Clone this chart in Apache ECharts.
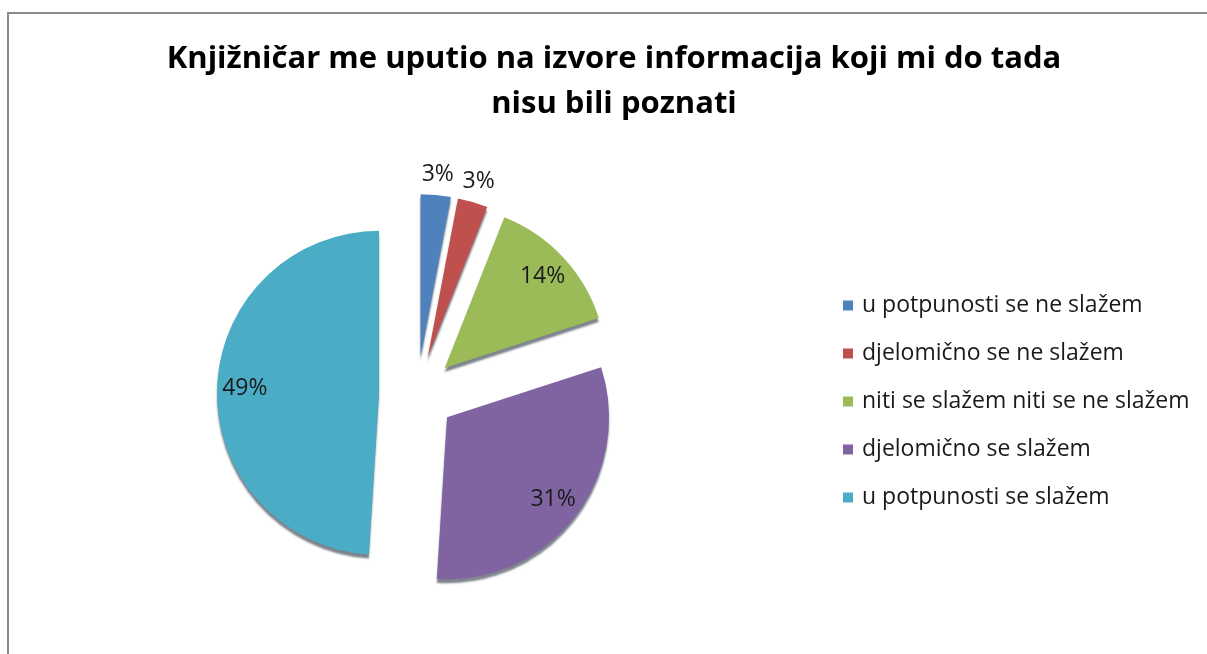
<!DOCTYPE html>
<html>
<head>
<meta charset="utf-8">
<script src="https://cdn.jsdelivr.net/npm/echarts@6/dist/echarts.min.js"></script>
<style>
    html, body { margin: 0; padding: 0; background: #fff; overflow: hidden; }
    #frame { position: absolute; left: 7px; top: 12px; width: 1400px; height: 900px; border: 2px solid #8a8a8a; }
    #chart { position: absolute; left: 0; top: 0; width: 1207px; height: 654px; }
</style>
</head>
<body>
<div id="frame"></div>
<div id="chart"></div>
<script>
// podaci
var categories = ['u potpunosti se ne slažem', 'djelomično se ne slažem', 'niti se slažem niti se ne slažem', 'djelomično se slažem', 'u potpunosti se slažem'];
var percents = [3, 3, 14, 31, 49];
var colors = ['#4F81BD', '#C0504D', '#9BBB59', '#8064A2', '#4BACC6'];
// mali udjeli imaju oznaku izvan isječka
var labelOutside = [true, true, false, false, false];

var FONT = '"Open Sans", sans-serif';
var R = 162;
var CENTER = [417, 394];

var Chart = {
    init: function () {
        var pieData = [], innerLabels = [], outerLabels = [];
        for (var i = 0; i < categories.length; i++) {
            pieData.push({ name: categories[i], value: percents[i], selected: true, itemStyle: { color: colors[i] } });
            innerLabels.push({ name: categories[i], value: percents[i], selected: true, label: { show: !labelOutside[i] } });
            outerLabels.push({ name: categories[i], value: percents[i], selected: true, label: { show: labelOutside[i] } });
        }

        //prozirni prsten samo za oznake
        var labelSeries = function (radius, data) {
            return {
                type: 'pie',
                z: 10,
                center: CENTER,
                radius: radius,
                startAngle: 90,
                selectedMode: 'multiple',
                selectedOffset: 38,
                silent: true,
                legendHoverLink: false,
                itemStyle: { color: 'rgba(0,0,0,0)' },
                label: {
                    show: true,
                    position: 'inner',
                    formatter: '{c}%',
                    color: '#1a1a1a',
                    fontSize: 23,
                    fontFamily: FONT
                },
                labelLine: { show: false },
                emphasis: { disabled: true },
                data: data
            };
        };

        var option = {
            animation: false,
            title: {
                text: 'Knjižničar me uputio na izvore informacija koji mi do tada\nnisu bili poznati',
                left: 609,
                top: 32,
                textAlign: 'center',
                textStyle: {
                    fontFamily: FONT,
                    fontSize: 31,
                    fontWeight: 'bold',
                    color: '#000',
                    lineHeight: 45
                }
            },
            legend: {
                orient: 'vertical',
                left: 838,
                top: 289,
                itemWidth: 10,
                itemHeight: 10,
                itemGap: 25,
                icon: 'rect',
                selectedMode: false,
                textStyle: { fontFamily: FONT, fontSize: 23, color: '#1a1a1a', padding: [0, 0, 0, 4] },
                data: categories.map(function (c, i) {
                    return { name: c, itemStyle: { color: colors[i] } };
                })
            },
            series: [
                {
                    type: 'pie',
                    center: CENTER,
                    radius: R,
                    startAngle: 90,
                    selectedMode: 'multiple',
                    selectedOffset: 38,
                    itemStyle: {
                        shadowColor: 'rgba(20,30,50,0.55)',
                        shadowBlur: 2,
                        shadowOffsetY: 4
                    },
                    label: { show: false },
                    labelLine: { show: false },
                    emphasis: { scale: false },
                    data: pieData
                },
                labelSeries([R * 0.62, R], innerLabels),
                labelSeries([R, R + 36], outerLabels)
            ]
        };

        var c = echarts.init(document.getElementById('chart'));
        c.setOption(option);
    }
};
Chart.init();
</script>
</body>
</html>
